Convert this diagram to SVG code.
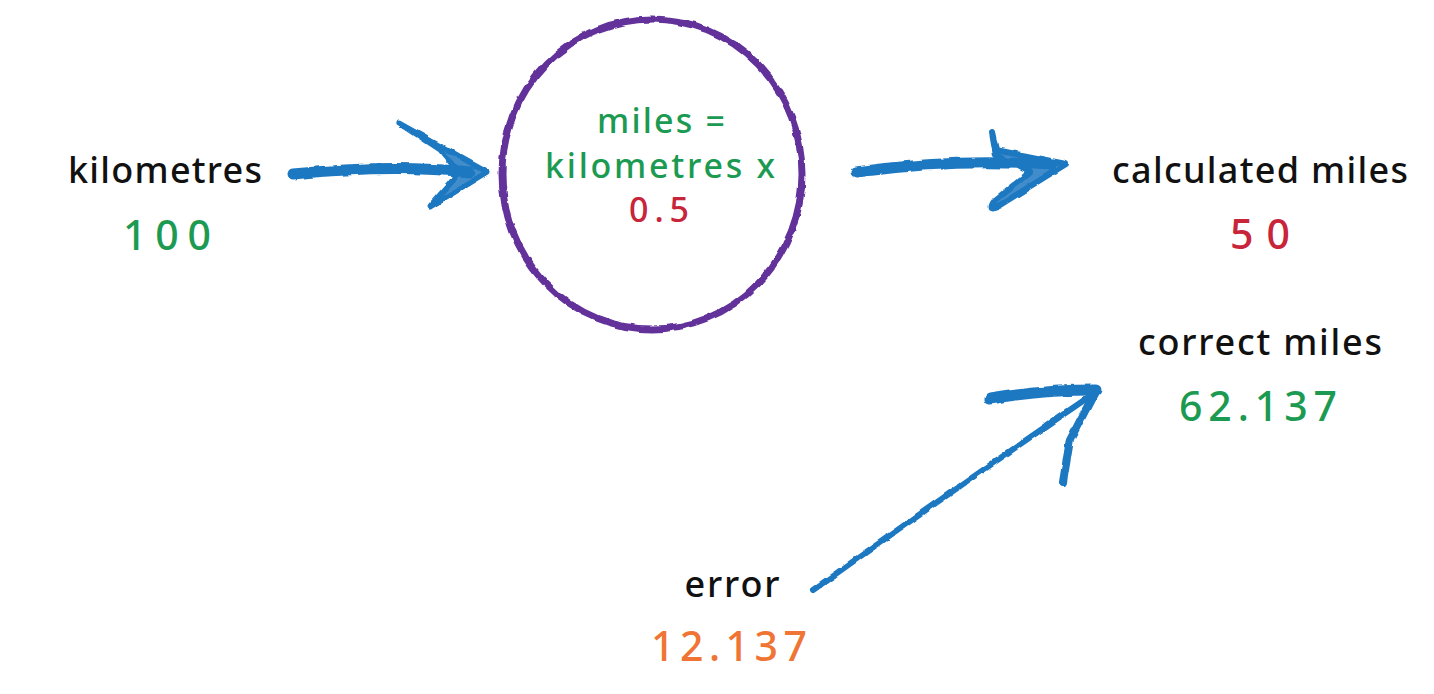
<svg xmlns="http://www.w3.org/2000/svg" width="1434" height="694" viewBox="0 0 1434 694">
<defs>
<filter id="rough" x="-10%" y="-10%" width="120%" height="120%">
<feTurbulence type="fractalNoise" baseFrequency="0.08" numOctaves="2" seed="3" result="n"/>
<feDisplacementMap in="SourceGraphic" in2="n" scale="4" xChannelSelector="R" yChannelSelector="G"/>
</filter>
</defs>
<style>
text{font-family:"Noto Sans","DejaVu Sans",sans-serif;font-weight:500;text-anchor:middle}
.lbl{font-size:36px;fill:#111}
.val{font-size:41px}
.in{font-size:34px}
.green{fill:#1c9a52}
.red{fill:#c8243a}
.orange{fill:#f07434}
.arr{fill:none;stroke:#1f78c1;stroke-linecap:round;stroke-linejoin:round}
.head{fill:#1f78c1;fill-opacity:0.85;stroke:#1f78c1;stroke-linejoin:round;stroke-linecap:round}
</style>
<rect width="1434" height="694" fill="#fff"/>
<g id="kilometres">
<text class="lbl" x="165" y="183" textLength="194" lengthAdjust="spacing">kilometres</text>
<text class="val green" x="167" y="250" textLength="88" lengthAdjust="spacing">100</text>
</g>
<g id="formula">
<ellipse cx="652" cy="174" rx="150" ry="155" fill="none" stroke="#62309a" stroke-width="7" filter="url(#rough)"/>
<text class="in green" x="661" y="133" textLength="128" lengthAdjust="spacing">miles =</text>
<text class="in green" x="660" y="178" textLength="230" lengthAdjust="spacing">kilometres x</text>
<text class="in red" x="659" y="222" textLength="60" lengthAdjust="spacing">0.5</text>
</g>
<g id="calculated">
<text class="lbl" x="1260" y="183" textLength="296" lengthAdjust="spacing">calculated miles</text>
<text class="val red" x="1260" y="249" textLength="60" lengthAdjust="spacing">50</text>
</g>
<g id="correct">
<text class="lbl" x="1260" y="355" textLength="244" lengthAdjust="spacing">correct miles</text>
<text class="val green" x="1258" y="421" textLength="158" lengthAdjust="spacing">62.137</text>
</g>
<g id="error">
<text class="lbl" x="732" y="597" textLength="95" lengthAdjust="spacing">error</text>
<text class="val orange" x="729" y="661" textLength="156" lengthAdjust="spacing">12.137</text>
</g>
<g id="connectors" filter="url(#rough)">
<path class="arr" stroke-width="11" d="M293 174 Q390 164 470 172"/>
<path class="head" stroke-width="5" d="M399 123 L487 172 L430 207 L452 182 L458 172 L440 150 Z"/>
<path class="arr" stroke-width="11" d="M856 172 Q960 158 1050 165"/>
<path class="head" stroke-width="6" d="M992 132 L996 150 L1066 164 L1000 205 Q986 212 995 200 L1030 172 L996 155 Z"/>
<path class="arr" stroke-width="6" d="M813 590 Q960 485 1096 392"/>
<path class="arr" stroke-width="11" d="M990 399 Q1040 390 1096 390"/>
<path class="arr" stroke-width="8" d="M1096 390 L1070 440 L1063 482"/>
</g>
</svg>
